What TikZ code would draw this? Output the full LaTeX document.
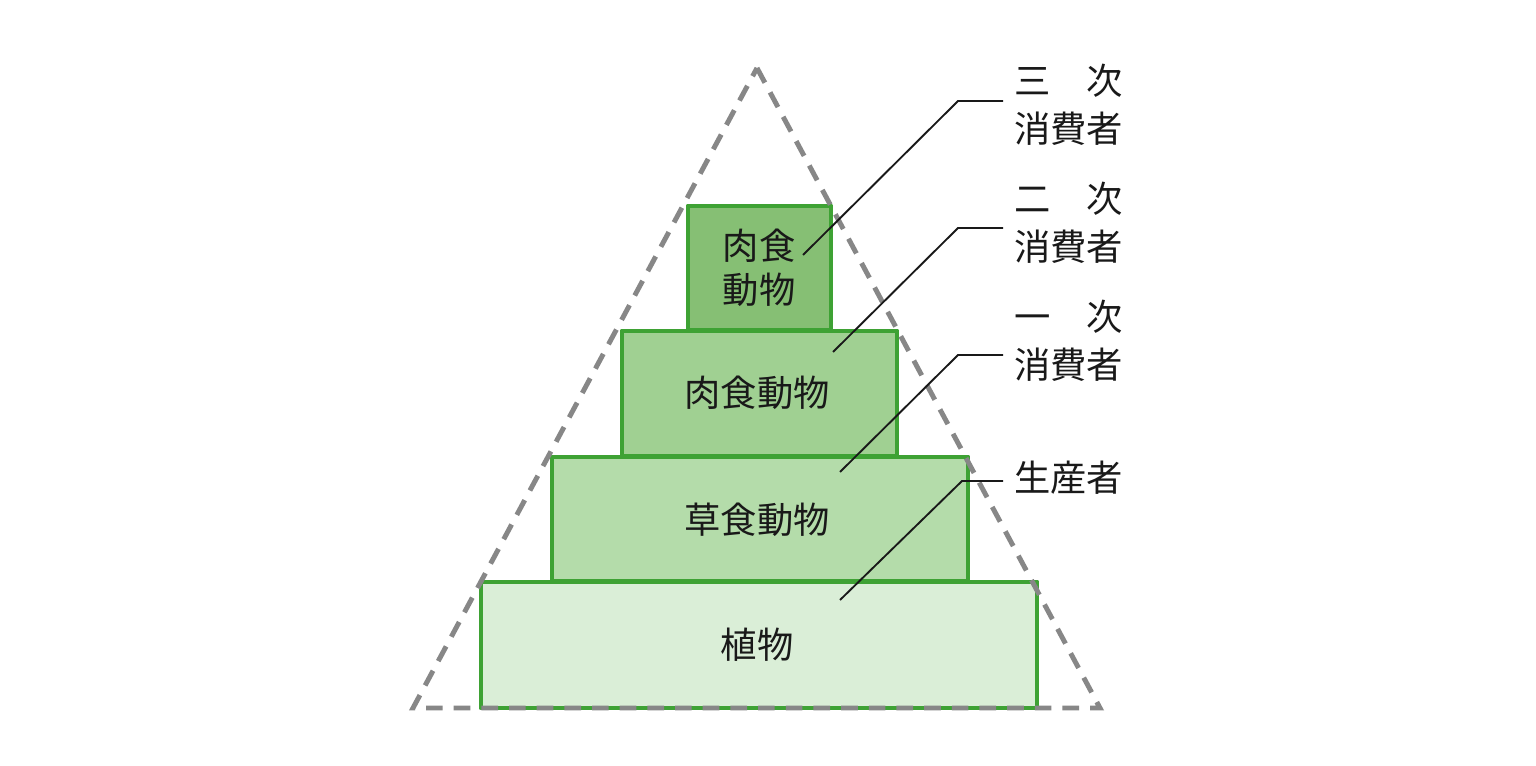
\documentclass[tikz,border=0pt]{standalone}
\usepackage{fontspec}
\newfontfamily\cjk{Noto Sans CJK JP}
\definecolor{edgegreen}{RGB}{62,162,52}
\definecolor{fillA}{RGB}{134,191,116}
\definecolor{fillB}{RGB}{160,208,146}
\definecolor{fillC}{RGB}{180,220,170}
\definecolor{fillD}{RGB}{218,238,215}
\definecolor{dashgray}{RGB}{135,135,135}
\tikzset{
  tier/.style={draw=edgegreen, line width=4.2pt, line join=round},
  tiertext/.style={font=\cjk\fontsize{31}{38}\selectfont, text=black!90, align=center, inner sep=0pt},
  labeltext/.style={font=\cjk\fontsize{31}{41}\selectfont, text=black!90, align=left, inner sep=0pt, anchor=north west},
  leader/.style={draw=black!90, line width=1.6pt},
  pyramid/.style={draw=dashgray, line width=4.2pt, dash pattern=on 0.5cm off 0.33cm}
}
\begin{document}
\begin{tikzpicture}[x=0.03cm,y=-0.03cm]
\useasboundingbox (0,0) rectangle (1536,766);
\fill[white] (0,0) rectangle (1536,766);
% tiers
\path[tier, fill=fillD] (481,582) rectangle (1037,708);
\path[tier, fill=fillC] (552,457) rectangle (968,581);
\path[tier, fill=fillB] (622,331) rectangle (897,456);
\path[tier, fill=fillA] (688,206) rectangle (831,330);
% tier texts
\node[tiertext] (t1) at (759,268) {肉食\\動物};
\node[tiertext] (t2) at (757,393) {肉食動物};
\node[tiertext] (t3) at (757,520) {草食動物};
\node[tiertext] (t4) at (757,645) {植物};
% pyramid outline
\draw[pyramid] (757,68) -- (1100,708) -- (413,708) -- cycle;
% labels
\node[labeltext] (l1) at (1014,64) {三　次\\消費者};
\node[labeltext] (l2) at (1014,182) {二　次\\消費者};
\node[labeltext] (l3) at (1014,300) {一　次\\消費者};
\node[labeltext] (l4) at (1014,461) {生産者};
% leader anchors
\coordinate (a1) at (803,255);
\coordinate (a2) at (833,352);
\coordinate (a3) at (840,472);
\coordinate (a4) at (840,600);
\coordinate (b1) at (958,101);
\coordinate (b2) at (958,228);
\coordinate (b3) at (958,355);
\coordinate (b4) at (962,481);
\draw[leader] (a1) -- (b1) -- ([xshift=-0.33cm]b1 -| l1.west);
\draw[leader] (a2) -- (b2) -- ([xshift=-0.33cm]b2 -| l2.west);
\draw[leader] (a3) -- (b3) -- ([xshift=-0.33cm]b3 -| l3.west);
\draw[leader] (a4) -- (b4) -- ([xshift=-0.33cm]b4 -| l4.west);
\end{tikzpicture}
\end{document}
